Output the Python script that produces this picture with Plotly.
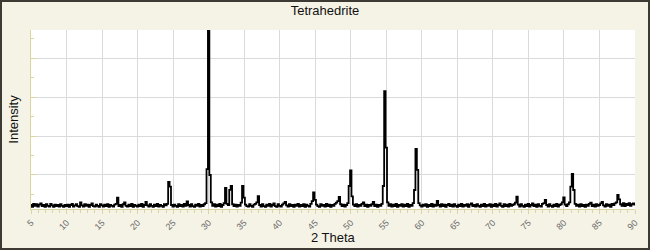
import numpy as np
import plotly.graph_objects as go

# 2-theta grid (degrees), step 0.2 from 5 to 90
two_theta = np.round(np.arange(5.0, 90.0001, 0.2), 1)

# intensity values (one per 0.2 degree)
intensity = [
    # 5.0 - 9.8
    230,180,260,210,250,190,240,270,200,230,180,250,210,190,260,220,180,240,200,230,190,250,210,180,230,
    # 10.0 - 14.8
    200,240,180,230,260,190,220,250,200,180,300,220,190,250,210,240,180,230,270,200,190,240,210,180,250,
    # 15.0 - 19.8
    220,190,240,200,250,180,230,210,190,240,260,420,200,230,180,250,300,210,190,240,200,260,180,230,210,
    # 20.0 - 24.8
    190,240,200,260,180,230,310,220,190,250,210,180,240,200,260,190,230,210,180,250,220,260,820,700,230,
    # 25.0 - 29.8
    190,240,210,180,250,200,230,190,260,210,320,230,190,250,200,180,240,210,260,190,230,200,250,280,1150,
    # 30.0 - 34.8
    4720,1000,300,210,250,190,240,200,260,180,230,280,670,260,230,620,720,250,200,240,190,230,210,290,720,
    # 35.0 - 39.8
    420,240,200,190,250,210,180,240,260,300,460,230,190,250,200,180,240,210,260,190,230,270,200,180,250,
    # 40.0 - 44.8
    210,190,240,270,310,220,190,250,200,230,180,240,210,260,190,230,200,250,180,240,210,190,260,330,556,
    # 45.0 - 49.8
    360,240,200,180,250,210,230,190,260,200,240,180,230,210,260,290,330,436,250,200,240,190,230,280,718,
    # 50.0 - 54.8
    1120,450,240,200,250,190,230,210,260,300,200,240,180,230,210,250,310,200,240,180,230,210,260,718,3150,
    # 55.0 - 59.8
    1700,300,210,250,190,240,200,260,180,230,210,250,190,240,200,260,180,230,210,280,615,1670,1130,280,220,
    # 60.0 - 64.8
    190,240,210,250,180,230,200,260,190,240,210,333,230,190,250,200,240,180,230,260,200,240,190,250,210,
    # 65.0 - 69.8
    180,240,200,260,190,230,210,250,180,240,270,200,230,190,250,210,180,240,200,260,190,230,210,250,180,
    # 70.0 - 74.8
    240,200,260,190,230,270,210,180,250,200,240,190,260,210,230,250,290,445,240,190,250,210,180,240,200,
    # 75.0 - 79.8
    260,190,230,270,200,240,180,250,210,190,260,280,360,230,190,250,210,180,240,200,260,190,230,250,300,
    # 80.0 - 84.8
    428,240,200,250,300,700,1025,615,260,210,240,190,250,200,230,180,240,210,260,290,200,240,190,250,210,
    # 85.0 - 89.8
    230,270,310,220,190,250,210,240,180,260,230,270,300,487,376,250,210,280,200,260,230,280,210,250,270,
    # 90.0
    240,
]

x_ticks = [5, 10, 15, 20, 25, 30, 35, 40, 45, 50, 55, 60, 65, 70, 75, 80, 85, 90]
x_range = [5, 90]
y_range = [128, 4718]

BG = "#f5f3e6"
AXIS_YEL = "#ddd5a0"
GRID = "#dadada"
FONT = "Liberation Sans, Arial, sans-serif"

fig = go.Figure()
fig.add_trace(go.Scatter(
    x=two_theta, y=intensity, mode="lines",
    line=dict(color="#000000", width=1.8, shape="hvh"),
    hoverinfo="skip", showlegend=False,
))

fig.update_layout(
    width=650, height=250,
    margin=dict(l=31, r=15, t=30, b=41, autoexpand=False),
    paper_bgcolor=BG, plot_bgcolor="#ffffff",
    font=dict(family=FONT, color="#000000"),
    title=dict(text="Tetrahedrite", x=0.5, xanchor="center", y=0.96, yanchor="middle",
               font=dict(family=FONT, size=13, color="#111111")),
    showlegend=False,
)

fig.update_xaxes(
    range=x_range, tickmode="array", tickvals=x_ticks, ticktext=[str(v) for v in x_ticks],
    tickangle=-45, tickfont=dict(family=FONT, size=9, color="#6a6a6a"),
    ticks="outside", ticklen=4, tickcolor=AXIS_YEL, tickwidth=1,
    minor=dict(dtick=1, tick0=5, ticks="outside", ticklen=3, tickcolor=AXIS_YEL, showgrid=False),
    showgrid=True, gridcolor=GRID, gridwidth=1,
    showline=True, linecolor=AXIS_YEL, linewidth=1,
    zeroline=False, automargin=False,
)

fig.update_yaxes(
    range=y_range, tick0=0, dtick=1000, showticklabels=False,
    ticks="inside", ticklen=5, tickcolor=AXIS_YEL, tickwidth=1,
    minor=dict(dtick=500, tick0=0, ticks="inside", ticklen=3, tickcolor=AXIS_YEL, showgrid=False),
    showgrid=True, gridcolor=GRID, gridwidth=1,
    showline=True, linecolor=AXIS_YEL, linewidth=1,
    zeroline=False, automargin=False,
    title=dict(text="Intensity", font=dict(family=FONT, size=13, color="#111111"), standoff=8),
)

# x-axis title placed as text under the tick labels
fig.add_annotation(text="2 Theta", xref="paper", yref="paper", x=0.5, y=(209 - 237) / 179,
                   xanchor="center", yanchor="middle", showarrow=False,
                   font=dict(family=FONT, size=13, color="#111111"))

# outer dark frame around the whole picture
fig.add_shape(type="rect", xref="paper", yref="paper",
              x0=(1 - 31) / 604, x1=(649 - 31) / 604,
              y0=(209 - 249) / 179, y1=(209 - 1) / 179,
              line=dict(color="#3c3a33", width=2), fillcolor="rgba(0,0,0,0)", layer="above")

fig.write_html("out.html")
